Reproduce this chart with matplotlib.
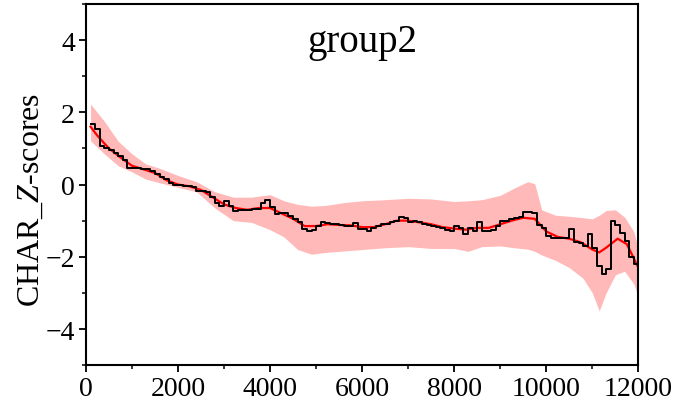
import numpy as np
import matplotlib
matplotlib.use('Agg')
import matplotlib.pyplot as plt
from matplotlib.ticker import MultipleLocator

plt.rcParams['font.family'] = 'Liberation Serif'
plt.rcParams['mathtext.fontset'] = 'custom'
plt.rcParams['mathtext.rm'] = 'Liberation Serif'
plt.rcParams['mathtext.it'] = 'Liberation Serif:italic'

# binned z-scores (left edges of each bin)
step_x = [100, 200, 300, 400, 500, 600, 700, 800, 900, 1000,
          1100, 1200, 1300, 1400, 1500, 1600, 1700, 1800, 1900, 2000,
          2100, 2200, 2300, 2400, 2500, 2600, 2700, 2800, 2900, 3000,
          3100, 3200, 3300, 3400, 3500, 3600, 3700, 3800, 3900, 4000,
          4100, 4200, 4300, 4400, 4500, 4600, 4700, 4800, 4900, 5000,
          5100, 5200, 5300, 5400, 5500, 5600, 5700, 5800, 5900, 6000,
          6100, 6200, 6300, 6400, 6500, 6600, 6700, 6800, 6900, 7000,
          7100, 7200, 7300, 7400, 7500, 7600, 7700, 7800, 7900, 8000,
          8100, 8200, 8300, 8400, 8500, 8600, 8700, 8800, 8900, 9000,
          9100, 9200, 9300, 9400, 9500, 9600, 9700, 9800, 9900, 10000,
          10100, 10200, 10300, 10400, 10500, 10600, 10700, 10800, 10900, 11000,
          11100, 11200, 11300, 11400, 11500, 11600, 11700, 11800, 11900, 12000]
step_y = [1.67, 1.55, 1.07, 1.02, 0.95, 0.88, 0.78, 0.68, 0.47, 0.45,
          0.45, 0.42, 0.42, 0.38, 0.30, 0.22, 0.15, 0.05, 0.00, 0.00,
          -0.04, -0.03, -0.08, -0.17, -0.17, -0.20, -0.35, -0.50, -0.59, -0.45,
          -0.60, -0.72, -0.70, -0.70, -0.70, -0.68, -0.68, -0.52, -0.43, -0.62,
          -0.82, -0.80, -0.78, -0.88, -0.95, -1.04, -1.23, -1.28, -1.25, -1.14,
          -1.05, -1.07, -1.08, -1.10, -1.12, -1.14, -1.14, -1.06, -1.23, -1.22,
          -1.28, -1.19, -1.15, -1.10, -1.08, -1.05, -1.00, -0.91, -0.93, -1.05,
          -1.00, -1.05, -1.08, -1.12, -1.15, -1.17, -1.19, -1.25, -1.28, -1.14,
          -1.19, -1.37, -1.19, -1.30, -1.03, -1.28, -1.30, -1.25, -1.15, -1.00,
          -1.02, -0.95, -0.93, -0.91, -0.77, -0.77, -0.78, -1.11, -1.19, -1.42,
          -1.47, -1.47, -1.47, -1.47, -1.23, -1.58, -1.62, -1.70, -1.38, -1.75,
          -2.25, -2.48, -2.35, -1.00, -1.11, -1.34, -1.55, -2.00, -2.20, -2.20]

# smoothed fit
fit_x = [100, 250, 500, 750, 1000, 1250, 1500, 1750, 2000, 2250,
         2500, 2750, 3000, 3250, 3500, 3750, 4000, 4250, 4500, 4750,
         5000, 5250, 5500, 5750, 6000, 6250, 6500, 6750, 7000, 7250,
         7500, 7750, 8000, 8250, 8500, 8750, 9000, 9250, 9500, 9750,
         10000, 10250, 10500, 10750, 11000, 11150, 11300, 11550, 11750, 12000]
fit_y = [1.60, 1.35, 1.00, 0.75, 0.52, 0.42, 0.32, 0.12, 0.00, -0.05,
         -0.15, -0.35, -0.55, -0.65, -0.70, -0.65, -0.65, -0.80, -0.95, -1.15,
         -1.15, -1.10, -1.12, -1.13, -1.18, -1.18, -1.10, -1.00, -1.00, -1.05,
         -1.10, -1.18, -1.22, -1.25, -1.20, -1.20, -1.10, -1.00, -0.92, -0.95,
         -1.30, -1.45, -1.50, -1.60, -1.80, -1.88, -1.75, -1.50, -1.65, -2.30]

# confidence band
band_x = [100, 400, 700, 1000, 1300, 1600, 2000, 2400, 2800, 3200,
          3600, 4000, 4300, 4600, 4900, 5200, 5600, 6000, 6500, 7000,
          7500, 8000, 8300, 8600, 9000, 9300, 9600, 9750, 9900, 10200,
          10500, 10800, 11000, 11150, 11300, 11500, 11700, 11900, 12000]
band_hi = [2.23, 1.75, 1.20, 0.85, 0.57, 0.45, 0.25, 0.08, -0.20, -0.35,
           -0.35, -0.28, -0.45, -0.55, -0.60, -0.58, -0.50, -0.45, -0.42, -0.38,
           -0.40, -0.47, -0.45, -0.42, -0.30, -0.10, 0.08, 0.02, -0.70, -0.85,
           -0.88, -0.92, -0.95, -0.85, -0.72, -0.70, -0.90, -1.30, -1.80]
band_lo = [1.21, 0.85, 0.52, 0.35, 0.15, 0.05, -0.08, -0.20, -0.65, -1.00,
           -1.05, -1.25, -1.45, -1.80, -1.93, -1.88, -1.84, -1.80, -1.75, -1.72,
           -1.77, -1.77, -1.85, -1.72, -1.70, -1.75, -1.79, -1.85, -1.95, -2.10,
           -2.30, -2.60, -3.00, -3.50, -3.00, -2.50, -2.40, -2.75, -3.10]

fig = plt.figure(figsize=(6.82, 4.10), dpi=100)
ax = fig.add_axes([0.126, 0.107, 0.81, 0.881])

ax.fill_between(band_x, band_lo, band_hi, color='#ffb9b9', lw=0)
ax.plot(fit_x, fit_y, color='red', lw=1.6)
ax.step(step_x, step_y, where='post', color='black', lw=1.4)

ax.set_xlim(0, 12000)
ax.set_ylim(-5, 5)
ax.xaxis.set_major_locator(MultipleLocator(2000))
ax.xaxis.set_minor_locator(MultipleLocator(1000))
ax.yaxis.set_major_locator(MultipleLocator(2))
ax.yaxis.set_minor_locator(MultipleLocator(1))
ax.tick_params(which='major', direction='out', length=5, width=1.3, labelsize=20, pad=3)
ax.tick_params(which='minor', direction='out', length=3, width=1.1)
for s in ax.spines.values():
    s.set_linewidth(1.5)

ax.set_ylabel(r'CHAR_$Z$-scores', fontsize=23)
ax.yaxis.set_label_coords(-0.072, 0.46)
ax.text(0.5, 0.895, 'group2', transform=ax.transAxes, ha='center', va='center', fontsize=28)

plt.savefig('out.png', dpi=100)
plt.close()
